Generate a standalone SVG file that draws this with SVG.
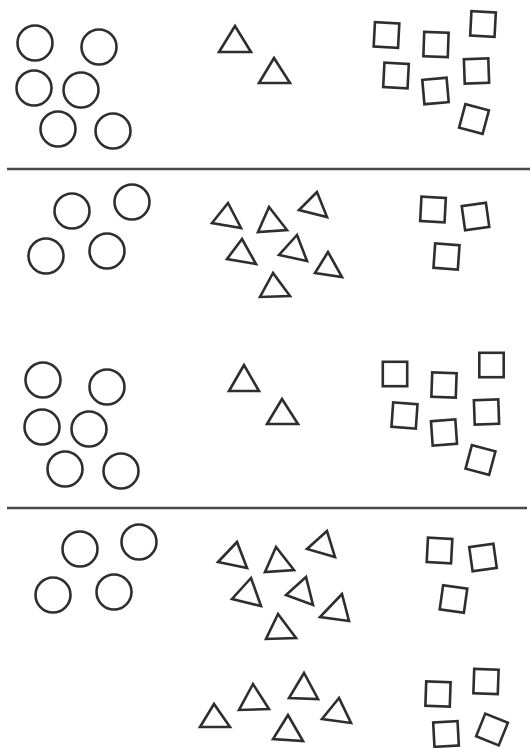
<svg xmlns="http://www.w3.org/2000/svg" xmlns:xlink="http://www.w3.org/1999/xlink" width="530" height="748" viewBox="0 0 530 748">
<style>
.s{fill:none;stroke:#2e2e2e;stroke-width:2.6;stroke-linejoin:miter}
.rule{stroke:#4a4a4a;stroke-width:2.6}
</style>
<defs>
<circle id="c" r="17.5" class="s"/>
<rect id="q" x="-12.2" y="-12.2" width="24.4" height="24.4" class="s"/>
</defs>
<rect width="530" height="748" fill="#ffffff"/>
<g id="rules">
<line class="rule" x1="7" y1="169" x2="530" y2="169"/>
<line class="rule" x1="7" y1="508" x2="527" y2="508"/>
</g>
<g id="circles">
<use xlink:href="#c" x="35" y="43"/>
<use xlink:href="#c" x="99" y="47"/>
<use xlink:href="#c" x="34" y="88"/>
<use xlink:href="#c" x="81" y="90"/>
<use xlink:href="#c" x="58" y="129"/>
<use xlink:href="#c" x="113" y="131"/>
<use xlink:href="#c" x="72" y="211"/>
<use xlink:href="#c" x="132" y="202"/>
<use xlink:href="#c" x="46" y="256"/>
<use xlink:href="#c" x="107" y="251"/>
<use xlink:href="#c" x="43" y="380"/>
<use xlink:href="#c" x="107" y="387"/>
<use xlink:href="#c" x="42" y="427"/>
<use xlink:href="#c" x="89" y="429"/>
<use xlink:href="#c" x="65" y="469"/>
<use xlink:href="#c" x="121" y="471"/>
<use xlink:href="#c" x="80" y="549"/>
<use xlink:href="#c" x="139" y="542"/>
<use xlink:href="#c" x="53" y="595"/>
<use xlink:href="#c" x="114" y="592"/>
</g>
<g id="triangles">
<polygon class="s" points="235,26 219,52 251,52"/>
<polygon class="s" points="274,58 259,83 290,83"/>
<polygon class="s" points="228,203 212,223 241,228"/>
<polygon class="s" points="269,207 258,232 287,230"/>
<polygon class="s" points="317,192 299,210 327,217"/>
<polygon class="s" points="242,239 227,259 256,264"/>
<polygon class="s" points="297,235 279,255 307,261"/>
<polygon class="s" points="328,252 315,273 342,277"/>
<polygon class="s" points="273,273 260,297 290,296"/>
<polygon class="s" points="244,365 229,391 259,391"/>
<polygon class="s" points="282,399 267,424 298,424"/>
<polygon class="s" points="237,542 218,562 247,568"/>
<polygon class="s" points="276,547 265,572 294,570"/>
<polygon class="s" points="327,531 307,549 335,557"/>
<polygon class="s" points="251,578 232,599 261,606"/>
<polygon class="s" points="306,577 286,595 313,605"/>
<polygon class="s" points="342,594 320,617 349,621"/>
<polygon class="s" points="278,614 266,639 296,638"/>
<polygon class="s" points="214,704 200,727 230,727"/>
<polygon class="s" points="253,684 239,710 269,709"/>
<polygon class="s" points="304,673 289,698 318,699"/>
<polygon class="s" points="339,698 322,719 351,723"/>
<polygon class="s" points="288,715 273,739 303,741"/>
</g>
<g id="squares">
<use xlink:href="#q" transform="translate(386.5,35) rotate(3)"/>
<use xlink:href="#q" transform="translate(436,44.5) rotate(2)"/>
<use xlink:href="#q" transform="translate(483,24) rotate(3)"/>
<use xlink:href="#q" transform="translate(396,75.5) rotate(3)"/>
<use xlink:href="#q" transform="translate(476.5,71) rotate(-2)"/>
<use xlink:href="#q" transform="translate(435.5,91) rotate(-5)"/>
<use xlink:href="#q" transform="translate(474,119) rotate(15)"/>
<use xlink:href="#q" transform="translate(433,209.5) rotate(3)"/>
<use xlink:href="#q" transform="translate(475.5,216.5) rotate(-8)"/>
<use xlink:href="#q" transform="translate(446.5,256.5) rotate(4)"/>
<use xlink:href="#q" transform="translate(395,374) rotate(0)"/>
<use xlink:href="#q" transform="translate(444,385) rotate(2)"/>
<use xlink:href="#q" transform="translate(491.5,365) rotate(0)"/>
<use xlink:href="#q" transform="translate(404.5,415.5) rotate(4)"/>
<use xlink:href="#q" transform="translate(486.5,412) rotate(-2)"/>
<use xlink:href="#q" transform="translate(444,432.5) rotate(-4)"/>
<use xlink:href="#q" transform="translate(480.5,460) rotate(15)"/>
<use xlink:href="#q" transform="translate(439.5,550.5) rotate(3)"/>
<use xlink:href="#q" transform="translate(483,557.5) rotate(-8)"/>
<use xlink:href="#q" transform="translate(453.5,599) rotate(8)"/>
<use xlink:href="#q" transform="translate(438,694) rotate(2)"/>
<use xlink:href="#q" transform="translate(486,681.5) rotate(2)"/>
<use xlink:href="#q" transform="translate(446,734) rotate(-3)"/>
<use xlink:href="#q" transform="translate(492,729.5) rotate(22)"/>
</g>
</svg>
